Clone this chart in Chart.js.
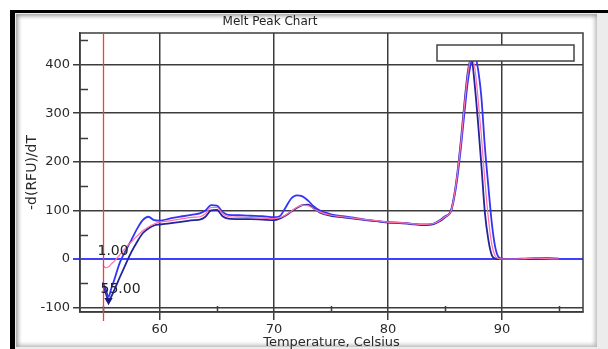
<!DOCTYPE html>
<html>
<head>
<meta charset="utf-8">
<script src="https://cdn.jsdelivr.net/npm/chart.js@4.4.1/dist/chart.umd.min.js"></script>
<style>
  html, body { margin: 0; padding: 0; background: #fff; }
  body { width: 608px; height: 349px; overflow: hidden; position: relative; }
  #frame { position: absolute; left: 10px; top: 10px; width: 620px; height: 360px;
           border-left: 5px solid #000; border-top: 3px solid #000; background: #ececec; }
  #panel { position: absolute; left: 16px; top: 14px; width: 581px; height: 333px; background: #fff;
           box-shadow: inset 3px 3px 4px -1px #9a9a9a, inset -3px -3px 4px -1px #b8b8b8; }
  #chart { position: absolute; left: 0; top: 0; }
</style>
</head>
<body>
<div id="frame"></div>
<div id="panel"></div>
<canvas id="chart" width="608" height="349"></canvas>
<script>
// temperatures (Celsius) shared by the three wells
const temps = [55.0, 55.25, 55.5, 55.75, 56.0, 56.5, 57.0, 57.5, 58.0, 58.5, 59.0, 59.5,
  60.0, 61.0, 62.0, 63.0, 63.5, 64.0, 64.5, 65.0, 65.5, 66.0, 67.0, 68.0, 69.0,
  70.0, 70.5, 71.0, 71.5, 72.0, 72.5, 73.0, 73.5, 74.0, 75.0, 76.0, 77.0, 78.0, 79.0,
  80.0, 81.0, 82.0, 83.0, 84.0, 84.5, 85.0, 85.5, 85.8, 86.1, 86.4, 86.7, 87.0, 87.3,
  87.6, 87.9, 88.2, 88.5, 88.8, 89.1, 89.4, 89.7, 90.0, 91.0, 92.0, 93.0, 94.0, 95.0];

// -d(RFU)/dT per well
const wellBlue = [-48, -62, -78, -60, -43, -7, 17, 39, 62, 80, 87, 80,
  79, 84, 88, 92, 94, 100, 111, 110, 97, 91, 90, 89, 88,
  86, 88, 105, 124, 131, 129, 120, 108, 100, 92, 88, 85, 81, 78,
  76, 75, 73, 71, 73, 79, 88, 97, 125, 170, 230, 300, 365, 405,
  420, 390, 330, 230, 150, 75, 25, 4, 1, 0, 1, 2, 2, 1];
const wellNavy = [-55, -70, -85, -77, -64, -37, -11, 14, 35, 53, 63, 69,
  71, 74, 77, 80, 81, 87, 100, 101, 88, 83, 82, 82, 81,
  80, 83, 89, 97, 105, 111, 112, 104, 96, 89, 86, 83, 80, 78,
  75, 74, 72, 70, 72, 77, 86, 98, 130, 180, 245, 320, 385, 415,
  360, 280, 190, 95, 40, 8, 1, 0, 0, 0, 0, 1, 1, 0];
const wellPink = [-12, -18, -16, -10, -5, 9, 23, 35, 47, 58, 66, 72,
  76, 79, 83, 86, 87, 93, 106, 106, 93, 87, 86, 85, 84,
  83, 85, 90, 98, 106, 111, 110, 103, 97, 90, 87, 84, 81, 79,
  76, 75, 73, 71, 73, 78, 87, 97, 128, 178, 240, 315, 380, 415,
  395, 330, 250, 160, 85, 30, 6, 1, 0, 0, 1, 2, 1, 0];

const xTicks = [60, 70, 80, 90];
const yTicks = [-100, 0, 100, 200, 300, 400];
const xMinor = [55, 65, 75, 85, 95];
const yMinor = [-50, 50, 150, 250, 350, 450];
const cursorTemp = 55;

const FONT = 'DejaVu Sans';
const GRID = '#3c3c3c';

function pts(vals) {
  return temps.map((t, i) => ({ x: t, y: vals[i] }));
}

// extra drawing: plot frame, minor ticks, cursor line, empty legend box, texts
const decor = {
  id: 'decor',
  afterDatasetsDraw(chart) {
    const { ctx, chartArea: a, scales: { x, y } } = chart;
    ctx.save();
    ctx.strokeStyle = GRID;
    ctx.lineWidth = 1.5;
    ctx.strokeRect(a.left, a.top, a.right - a.left, a.bottom - a.top);

    ctx.beginPath();
    yMinor.forEach(v => {
      const py = Math.round(y.getPixelForValue(v)) + 0.5;
      ctx.moveTo(a.left, py); ctx.lineTo(a.left + 8, py);
    });
    xMinor.forEach(v => {
      const px = Math.round(x.getPixelForValue(v)) + 0.5;
      ctx.moveTo(px, a.bottom); ctx.lineTo(px, a.bottom - 6);
    });
    ctx.stroke();

    // cursor
    const cx = Math.round(x.getPixelForValue(cursorTemp)) + 0.5;
    ctx.strokeStyle = '#ff3b2a';
    ctx.lineWidth = 1.3;
    ctx.beginPath();
    ctx.moveTo(cx, a.top); ctx.lineTo(cx, a.bottom + 9);
    ctx.stroke();

    // empty legend box
    ctx.fillStyle = '#fff';
    ctx.strokeStyle = '#444';
    ctx.lineWidth = 1.5;
    ctx.fillRect(a.right - 146, a.top + 12, 137, 16);
    ctx.strokeRect(a.right - 146, a.top + 12, 137, 16);

    ctx.fillStyle = '#222';
    ctx.font = '14px "' + FONT + '"';
    ctx.textAlign = 'left';
    ctx.textBaseline = 'alphabetic';
    ctx.fillText('1.00', cx - 6, y.getPixelForValue(8));
    ctx.fillText('55.00', cx - 3, y.getPixelForValue(-70));

    ctx.font = '12px "' + FONT + '"';
    ctx.textAlign = 'center';
    ctx.textBaseline = 'middle';
    ctx.fillText('Melt Peak Chart', 270, 22);
    ctx.restore();
  }
};

new Chart(document.getElementById('chart'), {
  type: 'line',
  data: {
    datasets: [
      { label: 'C', data: pts(wellPink), borderColor: '#ff6fa8', borderWidth: 1.2 },
      { label: 'A', data: pts(wellBlue), borderColor: '#3434f4', borderWidth: 1.8 },
      { label: 'B', data: pts(wellNavy), borderColor: '#23239e', borderWidth: 1.8,
        pointRadius: c => c.dataIndex === 2 ? 3 : 0,
        pointStyle: 'triangle', rotation: 180,
        pointBackgroundColor: '#1a1a80', pointBorderColor: '#1a1a80' }
    ]
  },
  options: {
    responsive: false,
    animation: false,
    events: [],
    layout: { padding: { left: 0, top: 33, right: 25, bottom: 0 } },
    elements: {
      line: { cubicInterpolationMode: 'monotone', fill: false },
      point: { radius: 0 }
    },
    plugins: { legend: { display: false }, tooltip: { enabled: false } },
    scales: {
      x: {
        type: 'linear', min: 53, max: 97.1,
        afterBuildTicks: s => { s.ticks = xTicks.map(v => ({ value: v })); },
        afterFit: s => { s.height = 37; },
        ticks: { font: { family: FONT, size: 13 }, color: '#2a2a2a', padding: 2, maxRotation: 0 },
        grid: { color: GRID, lineWidth: 1.5, tickLength: 8 },
        border: { display: true, color: GRID, width: 1.5 },
        title: { display: true, text: 'Temperature, Celsius', color: '#2a2a2a',
                 font: { family: FONT, size: 13, lineHeight: 1 }, padding: { top: 0, bottom: 0 } }
      },
      y: {
        min: -109, max: 465,
        afterBuildTicks: s => { s.ticks = yTicks.map(v => ({ value: v })); },
        afterFit: s => { s.width = 80; },
        ticks: { font: { family: FONT, size: 13 }, color: '#2a2a2a', padding: 3 },
        grid: {
          color: c => (c.tick && c.tick.value === 0) ? '#3f3fff' : GRID,
          lineWidth: c => (c.tick && c.tick.value === 0) ? 2 : 1.5,
          tickLength: 7
        },
        border: { display: true, color: GRID, width: 1.5 },
        title: { display: true, text: '-d(RFU)/dT', color: '#2a2a2a',
                 font: { family: FONT, size: 14, lineHeight: 1.2 }, padding: { top: 24, bottom: 0 } }
      }
    }
  },
  plugins: [decor]
});
</script>
</body>
</html>
